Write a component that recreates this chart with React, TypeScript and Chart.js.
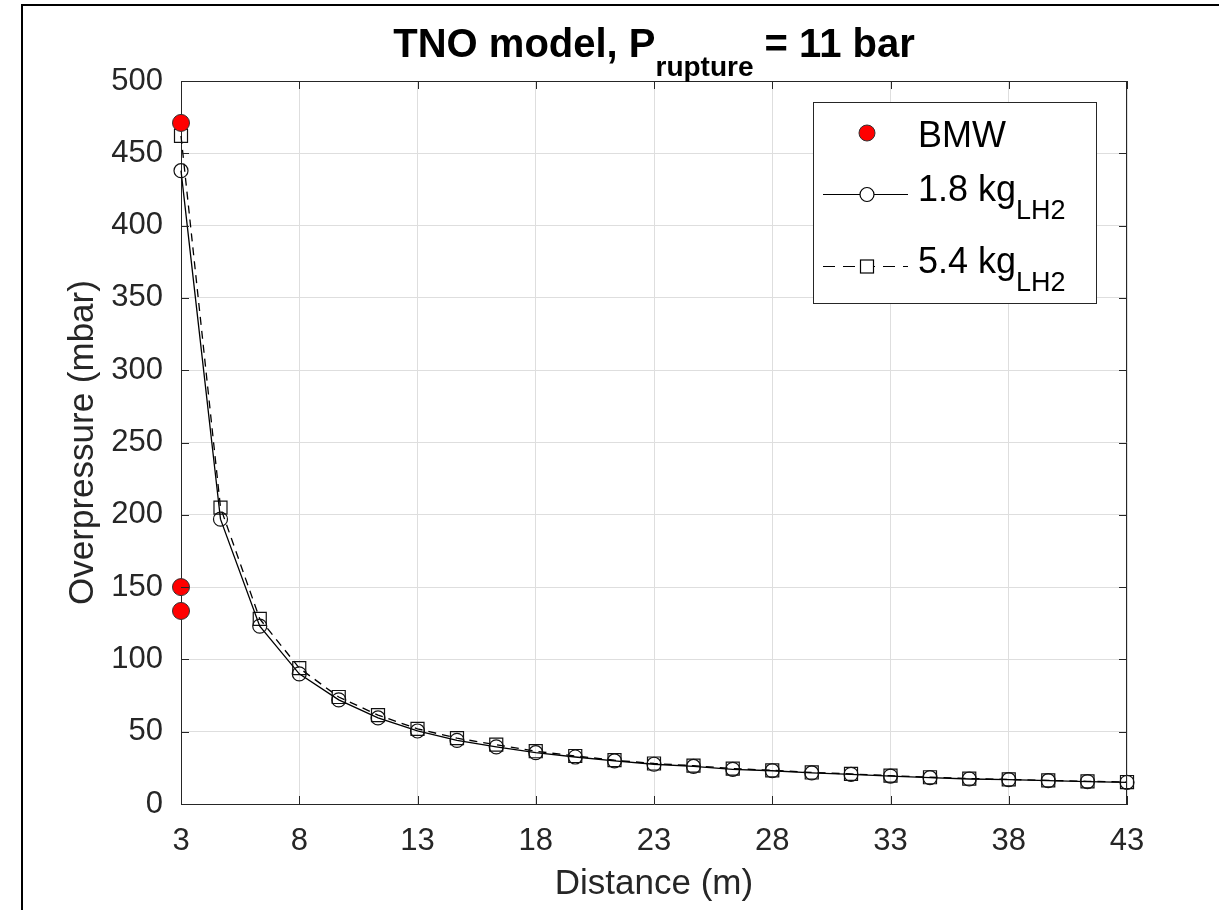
import React, { useEffect, useRef } from "react";
import { Chart, registerables } from "chart.js";

Chart.register(...registerables);

// ---- data ----
const DISTANCE = [3, 4.67, 6.33, 8, 9.67, 11.33, 13, 14.67, 16.33, 18, 19.67, 21.33, 23, 24.67, 26.33, 28, 29.67, 31.33, 33, 34.67, 36.33, 38, 39.67, 41.33, 43];
const P_1_8KG = [438, 197, 123, 90, 72, 59.5, 50.5, 44, 39.5, 35.5, 32.5, 29.8, 27.5, 26, 24, 23, 21.5, 20.5, 19.3, 18.2, 17.3, 16.8, 16.1, 15.5, 15];
const P_5_4KG = [462, 205, 128, 94, 74, 61.5, 52, 45.5, 41, 36.5, 33.2, 30.3, 28, 26.5, 24.5, 23.3, 21.8, 20.8, 19.6, 18.5, 17.6, 17, 16.3, 15.7, 15.2];
const BMW_X = [3, 3, 3];
const BMW_Y = [471, 150, 133.5];
const X_TICKS = [3, 8, 13, 18, 23, 28, 33, 38, 43];
const Y_TICKS = [0, 50, 100, 150, 200, 250, 300, 350, 400, 450, 500];

const FONT = '"Liberation Sans", Arial, Helvetica, sans-serif';
const AX = "#262626";

type Part = { text: string; size: number; bold?: boolean; dy?: number };

function drawParts(ctx: CanvasRenderingContext2D, parts: Part[], x: number, y: number, color: string) {
  ctx.save();
  ctx.fillStyle = color;
  ctx.textBaseline = "alphabetic";
  ctx.textAlign = "left";
  let cx = x;
  for (const p of parts) {
    ctx.font = `${p.bold ? "bold " : ""}${p.size}px ${FONT}`;
    ctx.fillText(p.text, cx, y + (p.dy || 0));
    cx += ctx.measureText(p.text).width;
  }
  ctx.restore();
  return cx - x;
}

function measureParts(ctx: CanvasRenderingContext2D, parts: Part[]) {
  ctx.save();
  let w = 0;
  for (const p of parts) {
    ctx.font = `${p.bold ? "bold " : ""}${p.size}px ${FONT}`;
    w += ctx.measureText(p.text).width;
  }
  ctx.restore();
  return w;
}

const decorPlugin = {
  id: "decor",
  afterDraw(chart: any) {
    const ctx: CanvasRenderingContext2D = chart.ctx;
    const area = chart.chartArea;
    const xs = chart.scales.x;
    const ys = chart.scales.y;

    // box (top & right) and inner ticks
    ctx.save();
    ctx.strokeStyle = AX;
    ctx.lineWidth = 1;
    ctx.beginPath();
    ctx.moveTo(area.left, area.top + 0.5);
    ctx.lineTo(area.right, area.top + 0.5);
    ctx.moveTo(area.right - 0.5, area.top);
    ctx.lineTo(area.right - 0.5, area.bottom);
    const tl = 8;
    for (const v of X_TICKS) {
      const px = Math.round(xs.getPixelForValue(v)) + 0.5;
      ctx.moveTo(px, area.bottom);
      ctx.lineTo(px, area.bottom - tl);
      ctx.moveTo(px, area.top);
      ctx.lineTo(px, area.top + tl);
    }
    for (const v of Y_TICKS) {
      const py = Math.round(ys.getPixelForValue(v)) + 0.5;
      ctx.moveTo(area.left, py);
      ctx.lineTo(area.left + tl, py);
      ctx.moveTo(area.right, py);
      ctx.lineTo(area.right - tl, py);
    }
    ctx.stroke();
    ctx.restore();

    // title
    const titleParts: Part[] = [
      { text: "TNO model, P", size: 40, bold: true },
      { text: "rupture", size: 28, bold: true, dy: 19 },
      { text: " = 11 bar", size: 40, bold: true },
    ];
    const tw = measureParts(ctx, titleParts);
    const cx = (area.left + area.right) / 2;
    drawParts(ctx, titleParts, cx - tw / 2, 57, "#000");

    // legend
    const bl = area.right - 314;
    const bt = area.top + 21;
    const bw = 283;
    const bh = 201;
    ctx.save();
    ctx.fillStyle = "#fff";
    ctx.fillRect(bl, bt, bw, bh);
    ctx.strokeStyle = AX;
    ctx.lineWidth = 1;
    ctx.strokeRect(bl + 0.5, bt + 0.5, bw, bh);
    ctx.restore();

    const mx = bl + 54;
    const tx = bl + 105;
    // BMW row
    const r1 = bt + 31;
    ctx.save();
    ctx.beginPath();
    ctx.arc(mx, r1, 8, 0, Math.PI * 2);
    ctx.fillStyle = "#ff0000";
    ctx.fill();
    ctx.strokeStyle = "#333";
    ctx.lineWidth = 1;
    ctx.stroke();
    ctx.restore();
    drawParts(ctx, [{ text: "BMW", size: 36 }], tx, r1 + 14, "#000");

    // 1.8 kg row
    const r2 = bt + 92.5;
    ctx.save();
    ctx.strokeStyle = "#000";
    ctx.lineWidth = 1;
    ctx.beginPath();
    ctx.moveTo(bl + 10, r2);
    ctx.lineTo(bl + 95, r2);
    ctx.stroke();
    ctx.beginPath();
    ctx.arc(mx, r2, 7, 0, Math.PI * 2);
    ctx.fillStyle = "#fff";
    ctx.fill();
    ctx.lineWidth = 1.2;
    ctx.stroke();
    ctx.restore();
    drawParts(ctx, [
      { text: "1.8 kg", size: 36 },
      { text: "LH2", size: 27, dy: 18 },
    ], tx, r2 + 6, "#000");

    // 5.4 kg row
    const r3 = bt + 164.5;
    ctx.save();
    ctx.strokeStyle = "#000";
    ctx.lineWidth = 1;
    ctx.setLineDash([12, 8]);
    ctx.beginPath();
    ctx.moveTo(bl + 10, r3);
    ctx.lineTo(bl + 95, r3);
    ctx.stroke();
    ctx.setLineDash([]);
    ctx.fillStyle = "#fff";
    ctx.fillRect(mx - 6.5, r3 - 6.5, 13, 13);
    ctx.lineWidth = 1.2;
    ctx.strokeRect(mx - 6.5, r3 - 6.5, 13, 13);
    ctx.restore();
    drawParts(ctx, [
      { text: "5.4 kg", size: 36 },
      { text: "LH2", size: 27, dy: 18 },
    ], tx, r3 + 6, "#000");
  },
};

export default function App() {
  const ref = useRef<HTMLCanvasElement | null>(null);

  useEffect(() => {
    if (!ref.current) return;
    const chart = new Chart(ref.current, {
      type: "line",
      data: {
        datasets: [
          {
            label: "BMW",
            data: BMW_X.map((x, i) => ({ x, y: BMW_Y[i] })),
            showLine: false,
            pointStyle: "circle",
            pointRadius: 8.5,
            pointBackgroundColor: "#ff0000",
            pointBorderColor: "#333333",
            pointBorderWidth: 1,
            clip: false,
          },
          {
            label: "1.8 kg LH2",
            data: DISTANCE.map((x, i) => ({ x, y: P_1_8KG[i] })),
            borderColor: "#000",
            borderWidth: 1.3,
            pointStyle: "circle",
            pointRadius: 7,
            pointBackgroundColor: "rgba(0,0,0,0)",
            pointBorderColor: "#111",
            pointBorderWidth: 1.2,
            tension: 0,
            clip: false,
          },
          {
            label: "5.4 kg LH2",
            data: DISTANCE.map((x, i) => ({ x, y: P_5_4KG[i] })),
            borderColor: "#000",
            borderWidth: 1.3,
            borderDash: [8, 6],
            pointStyle: "rect",
            pointRadius: 9.2,
            pointBackgroundColor: "rgba(0,0,0,0)",
            pointBorderColor: "#111",
            pointBorderWidth: 1.2,
            tension: 0,
            clip: false,
          },
        ],
      },
      options: {
        responsive: false,
        animation: false,
        devicePixelRatio: 1,
        layout: { padding: { top: 81, right: 92, bottom: 0, left: 0 } },
        plugins: {
          legend: { display: false },
          title: { display: false },
          tooltip: { enabled: false },
        },
        scales: {
          x: {
            type: "linear",
            min: 3,
            max: 43,
            afterBuildTicks: (s: any) => {
              s.ticks = X_TICKS.map((v) => ({ value: v }));
            },
            afterFit: (s: any) => {
              s.height = 106;
            },
            grid: { color: "#dedede", lineWidth: 1, drawTicks: false },
            border: { display: true, color: AX, width: 1 },
            ticks: {
              color: AX,
              font: { family: FONT, size: 31 },
              padding: 19,
              maxRotation: 0,
              autoSkip: false,
            },
            title: {
              display: true,
              text: "Distance (m)",
              color: AX,
              font: { family: FONT, size: 35 },
              padding: { top: 0, bottom: 5 },
            },
          },
          y: {
            type: "linear",
            min: 0,
            max: 500,
            afterBuildTicks: (s: any) => {
              s.ticks = Y_TICKS.map((v) => ({ value: v }));
            },
            afterFit: (s: any) => {
              s.width = 181;
            },
            grid: { color: "#dedede", lineWidth: 1, drawTicks: false },
            border: { display: true, color: AX, width: 1 },
            ticks: {
              color: AX,
              font: { family: FONT, size: 31 },
              padding: 18,
              autoSkip: false,
            },
            title: {
              display: true,
              text: "Overpressure (mbar)",
              color: AX,
              font: { family: FONT, size: 35 },
              padding: { top: 62, bottom: 0 },
            },
          },
        },
      },
      plugins: [decorPlugin],
    } as any);
    return () => chart.destroy();
  }, []);

  return (
    <div style={{ position: "absolute", left: 0, top: 0, width: 1219, height: 910, background: "#fff", overflow: "hidden" }}>
      <div
        style={{
          position: "absolute",
          left: 21,
          top: 4,
          width: 1219,
          height: 910,
          borderLeft: "2px solid #000",
          borderTop: "2px solid #000",
        }}
      />
      <canvas ref={ref} width={1219} height={910} style={{ position: "absolute", left: 0, top: 0, width: 1219, height: 910 }} />
    </div>
  );
}
